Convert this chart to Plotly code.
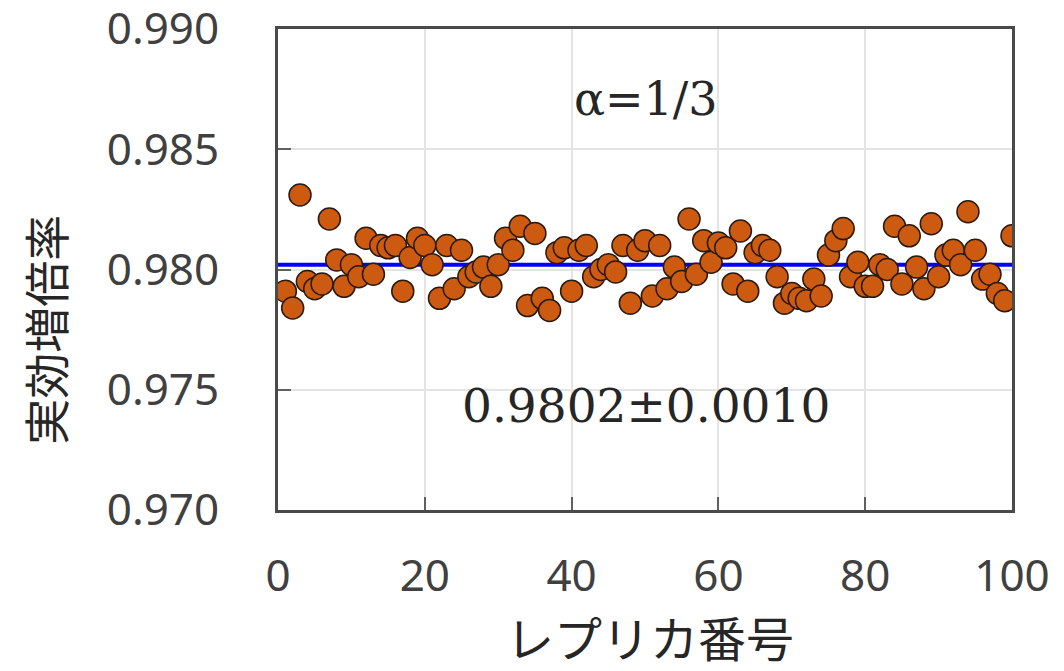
import plotly.graph_objects as go

replica = list(range(1, 101))
k_eff = [
    0.9791, 0.9784, 0.9831, 0.9795, 0.9792, 0.9794, 0.9821, 0.9804, 0.9793, 0.9802,
    0.9797, 0.9813, 0.9798, 0.9810, 0.9809, 0.9810, 0.9791, 0.9805, 0.9813, 0.9810,
    0.9802, 0.9788, 0.9810, 0.9792, 0.9808, 0.9797, 0.9799, 0.9801, 0.9793, 0.9802,
    0.9813, 0.9808, 0.9818, 0.9785, 0.9815, 0.9788, 0.9783, 0.9807, 0.9809, 0.9791,
    0.9808, 0.9810, 0.9797, 0.9800, 0.9802, 0.9799, 0.9810, 0.9786, 0.9808, 0.9812,
    0.9789, 0.9810, 0.9792, 0.9801, 0.9795, 0.9821, 0.9798, 0.9812, 0.9803, 0.9811,
    0.9809, 0.9794, 0.9816, 0.9791, 0.9807, 0.9810, 0.9808, 0.9797, 0.9786, 0.9790,
    0.9788, 0.9787, 0.9796, 0.9789, 0.9806, 0.9812, 0.9817, 0.9797, 0.9803, 0.9793,
    0.9793, 0.9802, 0.9800, 0.9818, 0.9794, 0.9814, 0.9801, 0.9792, 0.9819, 0.9797,
    0.9806, 0.9808, 0.9802, 0.9824, 0.9808, 0.9796, 0.9798, 0.9790, 0.9787, 0.9814,
]
mean_x = [0, 100]
mean_y = [0.9802, 0.9802]

x_ticks = [0, 20, 40, 60, 80, 100]
y_ticks = [0.970, 0.975, 0.980, 0.985, 0.990]

alpha_label = "α=1/3"
result_label = "0.9802±0.0010"
x_title = "レプリカ番号"
y_title = "実効増倍率"

fig = go.Figure()
fig.add_trace(go.Scatter(x=mean_x, y=mean_y, mode="lines",
                         line=dict(color="#0000ff", width=4), showlegend=False,
                         hoverinfo="skip"))
fig.add_trace(go.Scatter(x=replica, y=k_eff, mode="markers",
                         marker=dict(size=22, color="#cc5a10",
                                     line=dict(color="#2a1a10", width=1.5)),
                         showlegend=False))

tick_font = dict(family="Noto Sans, Open Sans, sans-serif", size=44, color="#404040")
axis_common = dict(showline=True, linecolor="#4a4a4a", linewidth=3, mirror=True,
                   showgrid=True, gridcolor="#e4e4e4", gridwidth=2,
                   ticks="inside", ticklen=13, tickwidth=2, tickcolor="#606060",
                   zeroline=False, tickfont=tick_font, automargin=False,
                   ticklabeloverflow="allow")

fig.update_xaxes(range=[0, 100], tickvals=x_ticks, ticklabelstandoff=25, **axis_common)
fig.update_yaxes(range=[0.970, 0.990], tickvals=y_ticks, tickformat=".3f",
                 ticklabelstandoff=47, **axis_common)

fig.update_layout(
    width=1064, height=671,
    margin=dict(l=278, r=52, t=29, b=161),
    plot_bgcolor="white", paper_bgcolor="white",
    annotations=[
        dict(text=alpha_label, x=0.501, y=0.855, xref="paper", yref="paper",
             showarrow=False, xanchor="center", yanchor="middle",
             font=dict(family="DejaVu Serif, serif", size=46, color="#262626")),
        dict(text=result_label, x=0.501, y=0.218, xref="paper", yref="paper",
             showarrow=False, xanchor="center", yanchor="middle",
             font=dict(family="DejaVu Serif, serif", size=47, color="#262626")),
        dict(text=x_title, x=0.507, y=-0.262, xref="paper", yref="paper",
             showarrow=False, xanchor="center", yanchor="middle",
             font=dict(family="Noto Sans CJK JP", size=48, color="#262626")),
        dict(text=y_title, x=-0.318, y=0.374, xref="paper", yref="paper",
             showarrow=False, xanchor="center", yanchor="middle", textangle=-90,
             font=dict(family="Noto Sans CJK JP", size=46, color="#262626")),
    ],
)

fig.write_html("out.html", config={"displayModeBar": False},
               post_script="document.body.style.margin='0';document.body.style.overflow='hidden';")
